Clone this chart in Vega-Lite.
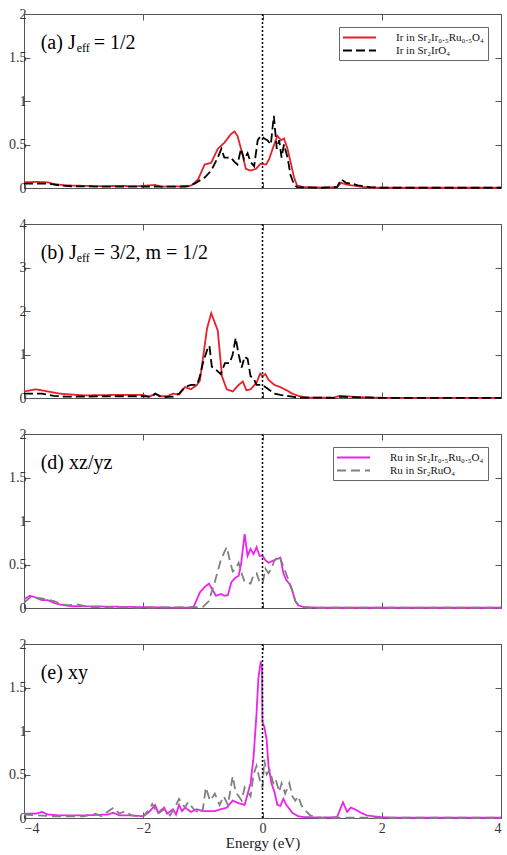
{
"$schema": "https://vega.github.io/schema/vega-lite/v6.json",
"padding": {"left": 8, "top": 6, "right": 2, "bottom": 0},
"spacing": 36,
"bounds": "flush",
"datasets": {
"a": [
{"E":-4,"v":0.065,"s":"Ir in Sr₂Ir₀.₅Ru₀.₅O₄"},{"E":-3.8,"v":0.07,"s":"Ir in Sr₂Ir₀.₅Ru₀.₅O₄"},{"E":-3.6,"v":0.065,"s":"Ir in Sr₂Ir₀.₅Ru₀.₅O₄"},{"E":-3.5,"v":0.045,"s":"Ir in Sr₂Ir₀.₅Ru₀.₅O₄"},{"E":-3.3,"v":0.03,"s":"Ir in Sr₂Ir₀.₅Ru₀.₅O₄"},{"E":-3.0,"v":0.025,"s":"Ir in Sr₂Ir₀.₅Ru₀.₅O₄"},{"E":-2.7,"v":0.02,"s":"Ir in Sr₂Ir₀.₅Ru₀.₅O₄"},{"E":-2.4,"v":0.025,"s":"Ir in Sr₂Ir₀.₅Ru₀.₅O₄"},{"E":-2.1,"v":0.02,"s":"Ir in Sr₂Ir₀.₅Ru₀.₅O₄"},{"E":-1.8,"v":0.035,"s":"Ir in Sr₂Ir₀.₅Ru₀.₅O₄"},{"E":-1.7,"v":0.015,"s":"Ir in Sr₂Ir₀.₅Ru₀.₅O₄"},{"E":-1.5,"v":0.02,"s":"Ir in Sr₂Ir₀.₅Ru₀.₅O₄"},{"E":-1.3,"v":0.015,"s":"Ir in Sr₂Ir₀.₅Ru₀.₅O₄"},{"E":-1.19,"v":0.03,"s":"Ir in Sr₂Ir₀.₅Ru₀.₅O₄"},{"E":-1.08,"v":0.1,"s":"Ir in Sr₂Ir₀.₅Ru₀.₅O₄"},{"E":-0.97,"v":0.27,"s":"Ir in Sr₂Ir₀.₅Ru₀.₅O₄"},{"E":-0.86,"v":0.29,"s":"Ir in Sr₂Ir₀.₅Ru₀.₅O₄"},{"E":-0.75,"v":0.45,"s":"Ir in Sr₂Ir₀.₅Ru₀.₅O₄"},{"E":-0.64,"v":0.52,"s":"Ir in Sr₂Ir₀.₅Ru₀.₅O₄"},{"E":-0.53,"v":0.62,"s":"Ir in Sr₂Ir₀.₅Ru₀.₅O₄"},{"E":-0.47,"v":0.65,"s":"Ir in Sr₂Ir₀.₅Ru₀.₅O₄"},{"E":-0.42,"v":0.6,"s":"Ir in Sr₂Ir₀.₅Ru₀.₅O₄"},{"E":-0.34,"v":0.4,"s":"Ir in Sr₂Ir₀.₅Ru₀.₅O₄"},{"E":-0.28,"v":0.22,"s":"Ir in Sr₂Ir₀.₅Ru₀.₅O₄"},{"E":-0.2,"v":0.2,"s":"Ir in Sr₂Ir₀.₅Ru₀.₅O₄"},{"E":-0.11,"v":0.22,"s":"Ir in Sr₂Ir₀.₅Ru₀.₅O₄"},{"E":-0.03,"v":0.28,"s":"Ir in Sr₂Ir₀.₅Ru₀.₅O₄"},{"E":0.06,"v":0.27,"s":"Ir in Sr₂Ir₀.₅Ru₀.₅O₄"},{"E":0.11,"v":0.33,"s":"Ir in Sr₂Ir₀.₅Ru₀.₅O₄"},{"E":0.17,"v":0.45,"s":"Ir in Sr₂Ir₀.₅Ru₀.₅O₄"},{"E":0.25,"v":0.6,"s":"Ir in Sr₂Ir₀.₅Ru₀.₅O₄"},{"E":0.31,"v":0.55,"s":"Ir in Sr₂Ir₀.₅Ru₀.₅O₄"},{"E":0.36,"v":0.57,"s":"Ir in Sr₂Ir₀.₅Ru₀.₅O₄"},{"E":0.42,"v":0.45,"s":"Ir in Sr₂Ir₀.₅Ru₀.₅O₄"},{"E":0.47,"v":0.3,"s":"Ir in Sr₂Ir₀.₅Ru₀.₅O₄"},{"E":0.53,"v":0.12,"s":"Ir in Sr₂Ir₀.₅Ru₀.₅O₄"},{"E":0.58,"v":0.03,"s":"Ir in Sr₂Ir₀.₅Ru₀.₅O₄"},{"E":0.69,"v":0.01,"s":"Ir in Sr₂Ir₀.₅Ru₀.₅O₄"},{"E":1.0,"v":0.005,"s":"Ir in Sr₂Ir₀.₅Ru₀.₅O₄"},{"E":1.25,"v":0.01,"s":"Ir in Sr₂Ir₀.₅Ru₀.₅O₄"},{"E":1.32,"v":0.06,"s":"Ir in Sr₂Ir₀.₅Ru₀.₅O₄"},{"E":1.4,"v":0.04,"s":"Ir in Sr₂Ir₀.₅Ru₀.₅O₄"},{"E":1.5,"v":0.03,"s":"Ir in Sr₂Ir₀.₅Ru₀.₅O₄"},{"E":1.7,"v":0.01,"s":"Ir in Sr₂Ir₀.₅Ru₀.₅O₄"},{"E":2.0,"v":0.003,"s":"Ir in Sr₂Ir₀.₅Ru₀.₅O₄"},{"E":4.0,"v":0.003,"s":"Ir in Sr₂Ir₀.₅Ru₀.₅O₄"},
{"E":-4,"v":0.05,"s":"Ir in Sr₂IrO₄"},{"E":-3.6,"v":0.05,"s":"Ir in Sr₂IrO₄"},{"E":-3.4,"v":0.03,"s":"Ir in Sr₂IrO₄"},{"E":-3.2,"v":0.02,"s":"Ir in Sr₂IrO₄"},{"E":-2.5,"v":0.015,"s":"Ir in Sr₂IrO₄"},{"E":-2.0,"v":0.015,"s":"Ir in Sr₂IrO₄"},{"E":-1.5,"v":0.015,"s":"Ir in Sr₂IrO₄"},{"E":-1.25,"v":0.02,"s":"Ir in Sr₂IrO₄"},{"E":-1.14,"v":0.05,"s":"Ir in Sr₂IrO₄"},{"E":-0.97,"v":0.12,"s":"Ir in Sr₂IrO₄"},{"E":-0.86,"v":0.2,"s":"Ir in Sr₂IrO₄"},{"E":-0.75,"v":0.35,"s":"Ir in Sr₂IrO₄"},{"E":-0.69,"v":0.45,"s":"Ir in Sr₂IrO₄"},{"E":-0.64,"v":0.35,"s":"Ir in Sr₂IrO₄"},{"E":-0.53,"v":0.35,"s":"Ir in Sr₂IrO₄"},{"E":-0.47,"v":0.3,"s":"Ir in Sr₂IrO₄"},{"E":-0.42,"v":0.27,"s":"Ir in Sr₂IrO₄"},{"E":-0.36,"v":0.45,"s":"Ir in Sr₂IrO₄"},{"E":-0.31,"v":0.33,"s":"Ir in Sr₂IrO₄"},{"E":-0.25,"v":0.4,"s":"Ir in Sr₂IrO₄"},{"E":-0.2,"v":0.3,"s":"Ir in Sr₂IrO₄"},{"E":-0.14,"v":0.25,"s":"Ir in Sr₂IrO₄"},{"E":-0.08,"v":0.55,"s":"Ir in Sr₂IrO₄"},{"E":-0.03,"v":0.6,"s":"Ir in Sr₂IrO₄"},{"E":0.03,"v":0.57,"s":"Ir in Sr₂IrO₄"},{"E":0.08,"v":0.55,"s":"Ir in Sr₂IrO₄"},{"E":0.14,"v":0.5,"s":"Ir in Sr₂IrO₄"},{"E":0.19,"v":0.83,"s":"Ir in Sr₂IrO₄"},{"E":0.24,"v":0.45,"s":"Ir in Sr₂IrO₄"},{"E":0.28,"v":0.55,"s":"Ir in Sr₂IrO₄"},{"E":0.32,"v":0.35,"s":"Ir in Sr₂IrO₄"},{"E":0.36,"v":0.5,"s":"Ir in Sr₂IrO₄"},{"E":0.42,"v":0.35,"s":"Ir in Sr₂IrO₄"},{"E":0.47,"v":0.15,"s":"Ir in Sr₂IrO₄"},{"E":0.53,"v":0.04,"s":"Ir in Sr₂IrO₄"},{"E":0.58,"v":0.01,"s":"Ir in Sr₂IrO₄"},{"E":1.0,"v":0.003,"s":"Ir in Sr₂IrO₄"},{"E":1.25,"v":0.01,"s":"Ir in Sr₂IrO₄"},{"E":1.32,"v":0.1,"s":"Ir in Sr₂IrO₄"},{"E":1.4,"v":0.06,"s":"Ir in Sr₂IrO₄"},{"E":1.5,"v":0.05,"s":"Ir in Sr₂IrO₄"},{"E":1.6,"v":0.03,"s":"Ir in Sr₂IrO₄"},{"E":1.8,"v":0.01,"s":"Ir in Sr₂IrO₄"},{"E":2.0,"v":0.003,"s":"Ir in Sr₂IrO₄"},{"E":4.0,"v":0.003,"s":"Ir in Sr₂IrO₄"}
],
"b": [
{"E":-4,"v":0.15,"s":"Ir in Sr₂Ir₀.₅Ru₀.₅O₄"},{"E":-3.8,"v":0.2,"s":"Ir in Sr₂Ir₀.₅Ru₀.₅O₄"},{"E":-3.6,"v":0.15,"s":"Ir in Sr₂Ir₀.₅Ru₀.₅O₄"},{"E":-3.4,"v":0.1,"s":"Ir in Sr₂Ir₀.₅Ru₀.₅O₄"},{"E":-3.0,"v":0.06,"s":"Ir in Sr₂Ir₀.₅Ru₀.₅O₄"},{"E":-2.5,"v":0.07,"s":"Ir in Sr₂Ir₀.₅Ru₀.₅O₄"},{"E":-2.0,"v":0.07,"s":"Ir in Sr₂Ir₀.₅Ru₀.₅O₄"},{"E":-1.9,"v":0.03,"s":"Ir in Sr₂Ir₀.₅Ru₀.₅O₄"},{"E":-1.8,"v":0.1,"s":"Ir in Sr₂Ir₀.₅Ru₀.₅O₄"},{"E":-1.7,"v":0.04,"s":"Ir in Sr₂Ir₀.₅Ru₀.₅O₄"},{"E":-1.6,"v":0.04,"s":"Ir in Sr₂Ir₀.₅Ru₀.₅O₄"},{"E":-1.5,"v":0.1,"s":"Ir in Sr₂Ir₀.₅Ru₀.₅O₄"},{"E":-1.4,"v":0.08,"s":"Ir in Sr₂Ir₀.₅Ru₀.₅O₄"},{"E":-1.3,"v":0.25,"s":"Ir in Sr₂Ir₀.₅Ru₀.₅O₄"},{"E":-1.2,"v":0.2,"s":"Ir in Sr₂Ir₀.₅Ru₀.₅O₄"},{"E":-1.1,"v":0.3,"s":"Ir in Sr₂Ir₀.₅Ru₀.₅O₄"},{"E":-1.05,"v":0.4,"s":"Ir in Sr₂Ir₀.₅Ru₀.₅O₄"},{"E":-1.0,"v":0.9,"s":"Ir in Sr₂Ir₀.₅Ru₀.₅O₄"},{"E":-0.93,"v":1.6,"s":"Ir in Sr₂Ir₀.₅Ru₀.₅O₄"},{"E":-0.86,"v":1.95,"s":"Ir in Sr₂Ir₀.₅Ru₀.₅O₄"},{"E":-0.75,"v":1.55,"s":"Ir in Sr₂Ir₀.₅Ru₀.₅O₄"},{"E":-0.68,"v":0.5,"s":"Ir in Sr₂Ir₀.₅Ru₀.₅O₄"},{"E":-0.6,"v":0.2,"s":"Ir in Sr₂Ir₀.₅Ru₀.₅O₄"},{"E":-0.5,"v":0.15,"s":"Ir in Sr₂Ir₀.₅Ru₀.₅O₄"},{"E":-0.4,"v":0.3,"s":"Ir in Sr₂Ir₀.₅Ru₀.₅O₄"},{"E":-0.33,"v":0.38,"s":"Ir in Sr₂Ir₀.₅Ru₀.₅O₄"},{"E":-0.27,"v":0.18,"s":"Ir in Sr₂Ir₀.₅Ru₀.₅O₄"},{"E":-0.2,"v":0.2,"s":"Ir in Sr₂Ir₀.₅Ru₀.₅O₄"},{"E":-0.1,"v":0.35,"s":"Ir in Sr₂Ir₀.₅Ru₀.₅O₄"},{"E":-0.04,"v":0.56,"s":"Ir in Sr₂Ir₀.₅Ru₀.₅O₄"},{"E":0.0,"v":0.5,"s":"Ir in Sr₂Ir₀.₅Ru₀.₅O₄"},{"E":0.05,"v":0.55,"s":"Ir in Sr₂Ir₀.₅Ru₀.₅O₄"},{"E":0.1,"v":0.42,"s":"Ir in Sr₂Ir₀.₅Ru₀.₅O₄"},{"E":0.2,"v":0.3,"s":"Ir in Sr₂Ir₀.₅Ru₀.₅O₄"},{"E":0.3,"v":0.25,"s":"Ir in Sr₂Ir₀.₅Ru₀.₅O₄"},{"E":0.4,"v":0.18,"s":"Ir in Sr₂Ir₀.₅Ru₀.₅O₄"},{"E":0.5,"v":0.1,"s":"Ir in Sr₂Ir₀.₅Ru₀.₅O₄"},{"E":0.6,"v":0.05,"s":"Ir in Sr₂Ir₀.₅Ru₀.₅O₄"},{"E":0.7,"v":0.02,"s":"Ir in Sr₂Ir₀.₅Ru₀.₅O₄"},{"E":0.8,"v":0.01,"s":"Ir in Sr₂Ir₀.₅Ru₀.₅O₄"},{"E":1.2,"v":0.01,"s":"Ir in Sr₂Ir₀.₅Ru₀.₅O₄"},{"E":1.3,"v":0.05,"s":"Ir in Sr₂Ir₀.₅Ru₀.₅O₄"},{"E":1.4,"v":0.04,"s":"Ir in Sr₂Ir₀.₅Ru₀.₅O₄"},{"E":1.6,"v":0.02,"s":"Ir in Sr₂Ir₀.₅Ru₀.₅O₄"},{"E":2.0,"v":0.005,"s":"Ir in Sr₂Ir₀.₅Ru₀.₅O₄"},{"E":4.0,"v":0.005,"s":"Ir in Sr₂Ir₀.₅Ru₀.₅O₄"},
{"E":-4,"v":0.1,"s":"Ir in Sr₂IrO₄"},{"E":-3.7,"v":0.1,"s":"Ir in Sr₂IrO₄"},{"E":-3.5,"v":0.05,"s":"Ir in Sr₂IrO₄"},{"E":-3.3,"v":0.03,"s":"Ir in Sr₂IrO₄"},{"E":-2.5,"v":0.04,"s":"Ir in Sr₂IrO₄"},{"E":-2.0,"v":0.04,"s":"Ir in Sr₂IrO₄"},{"E":-1.85,"v":0.03,"s":"Ir in Sr₂IrO₄"},{"E":-1.8,"v":0.1,"s":"Ir in Sr₂IrO₄"},{"E":-1.7,"v":0.02,"s":"Ir in Sr₂IrO₄"},{"E":-1.5,"v":0.03,"s":"Ir in Sr₂IrO₄"},{"E":-1.4,"v":0.1,"s":"Ir in Sr₂IrO₄"},{"E":-1.3,"v":0.25,"s":"Ir in Sr₂IrO₄"},{"E":-1.2,"v":0.3,"s":"Ir in Sr₂IrO₄"},{"E":-1.1,"v":0.3,"s":"Ir in Sr₂IrO₄"},{"E":-1.05,"v":0.5,"s":"Ir in Sr₂IrO₄"},{"E":-1.0,"v":0.8,"s":"Ir in Sr₂IrO₄"},{"E":-0.93,"v":1.1,"s":"Ir in Sr₂IrO₄"},{"E":-0.89,"v":1.2,"s":"Ir in Sr₂IrO₄"},{"E":-0.85,"v":0.72,"s":"Ir in Sr₂IrO₄"},{"E":-0.78,"v":0.65,"s":"Ir in Sr₂IrO₄"},{"E":-0.7,"v":0.55,"s":"Ir in Sr₂IrO₄"},{"E":-0.63,"v":0.8,"s":"Ir in Sr₂IrO₄"},{"E":-0.55,"v":0.8,"s":"Ir in Sr₂IrO₄"},{"E":-0.5,"v":1.0,"s":"Ir in Sr₂IrO₄"},{"E":-0.45,"v":1.38,"s":"Ir in Sr₂IrO₄"},{"E":-0.4,"v":1.0,"s":"Ir in Sr₂IrO₄"},{"E":-0.35,"v":0.7,"s":"Ir in Sr₂IrO₄"},{"E":-0.3,"v":0.95,"s":"Ir in Sr₂IrO₄"},{"E":-0.25,"v":0.9,"s":"Ir in Sr₂IrO₄"},{"E":-0.2,"v":0.5,"s":"Ir in Sr₂IrO₄"},{"E":-0.15,"v":0.45,"s":"Ir in Sr₂IrO₄"},{"E":-0.1,"v":0.3,"s":"Ir in Sr₂IrO₄"},{"E":0.0,"v":0.3,"s":"Ir in Sr₂IrO₄"},{"E":0.1,"v":0.2,"s":"Ir in Sr₂IrO₄"},{"E":0.2,"v":0.1,"s":"Ir in Sr₂IrO₄"},{"E":0.3,"v":0.07,"s":"Ir in Sr₂IrO₄"},{"E":0.4,"v":0.05,"s":"Ir in Sr₂IrO₄"},{"E":0.5,"v":0.03,"s":"Ir in Sr₂IrO₄"},{"E":0.6,"v":0.01,"s":"Ir in Sr₂IrO₄"},{"E":1.2,"v":0.005,"s":"Ir in Sr₂IrO₄"},{"E":1.3,"v":0.03,"s":"Ir in Sr₂IrO₄"},{"E":1.5,"v":0.02,"s":"Ir in Sr₂IrO₄"},{"E":2.0,"v":0.003,"s":"Ir in Sr₂IrO₄"},{"E":4.0,"v":0.003,"s":"Ir in Sr₂IrO₄"}
],
"d": [
{"E":-4,"v":0.1,"s":"Ru in Sr₂Ir₀.₅Ru₀.₅O₄"},{"E":-3.9,"v":0.14,"s":"Ru in Sr₂Ir₀.₅Ru₀.₅O₄"},{"E":-3.8,"v":0.12,"s":"Ru in Sr₂Ir₀.₅Ru₀.₅O₄"},{"E":-3.7,"v":0.09,"s":"Ru in Sr₂Ir₀.₅Ru₀.₅O₄"},{"E":-3.6,"v":0.09,"s":"Ru in Sr₂Ir₀.₅Ru₀.₅O₄"},{"E":-3.5,"v":0.06,"s":"Ru in Sr₂Ir₀.₅Ru₀.₅O₄"},{"E":-3.4,"v":0.04,"s":"Ru in Sr₂Ir₀.₅Ru₀.₅O₄"},{"E":-3.2,"v":0.02,"s":"Ru in Sr₂Ir₀.₅Ru₀.₅O₄"},{"E":-3.0,"v":0.02,"s":"Ru in Sr₂Ir₀.₅Ru₀.₅O₄"},{"E":-2.5,"v":0.015,"s":"Ru in Sr₂Ir₀.₅Ru₀.₅O₄"},{"E":-2.0,"v":0.01,"s":"Ru in Sr₂Ir₀.₅Ru₀.₅O₄"},{"E":-1.5,"v":0.005,"s":"Ru in Sr₂Ir₀.₅Ru₀.₅O₄"},{"E":-1.2,"v":0.005,"s":"Ru in Sr₂Ir₀.₅Ru₀.₅O₄"},{"E":-1.15,"v":0.02,"s":"Ru in Sr₂Ir₀.₅Ru₀.₅O₄"},{"E":-1.05,"v":0.18,"s":"Ru in Sr₂Ir₀.₅Ru₀.₅O₄"},{"E":-0.97,"v":0.24,"s":"Ru in Sr₂Ir₀.₅Ru₀.₅O₄"},{"E":-0.9,"v":0.28,"s":"Ru in Sr₂Ir₀.₅Ru₀.₅O₄"},{"E":-0.83,"v":0.2,"s":"Ru in Sr₂Ir₀.₅Ru₀.₅O₄"},{"E":-0.78,"v":0.14,"s":"Ru in Sr₂Ir₀.₅Ru₀.₅O₄"},{"E":-0.7,"v":0.16,"s":"Ru in Sr₂Ir₀.₅Ru₀.₅O₄"},{"E":-0.63,"v":0.14,"s":"Ru in Sr₂Ir₀.₅Ru₀.₅O₄"},{"E":-0.58,"v":0.15,"s":"Ru in Sr₂Ir₀.₅Ru₀.₅O₄"},{"E":-0.52,"v":0.3,"s":"Ru in Sr₂Ir₀.₅Ru₀.₅O₄"},{"E":-0.45,"v":0.35,"s":"Ru in Sr₂Ir₀.₅Ru₀.₅O₄"},{"E":-0.4,"v":0.37,"s":"Ru in Sr₂Ir₀.₅Ru₀.₅O₄"},{"E":-0.36,"v":0.5,"s":"Ru in Sr₂Ir₀.₅Ru₀.₅O₄"},{"E":-0.3,"v":0.85,"s":"Ru in Sr₂Ir₀.₅Ru₀.₅O₄"},{"E":-0.25,"v":0.6,"s":"Ru in Sr₂Ir₀.₅Ru₀.₅O₄"},{"E":-0.2,"v":0.68,"s":"Ru in Sr₂Ir₀.₅Ru₀.₅O₄"},{"E":-0.15,"v":0.62,"s":"Ru in Sr₂Ir₀.₅Ru₀.₅O₄"},{"E":-0.1,"v":0.7,"s":"Ru in Sr₂Ir₀.₅Ru₀.₅O₄"},{"E":-0.05,"v":0.6,"s":"Ru in Sr₂Ir₀.₅Ru₀.₅O₄"},{"E":0.0,"v":0.6,"s":"Ru in Sr₂Ir₀.₅Ru₀.₅O₄"},{"E":0.05,"v":0.55,"s":"Ru in Sr₂Ir₀.₅Ru₀.₅O₄"},{"E":0.1,"v":0.52,"s":"Ru in Sr₂Ir₀.₅Ru₀.₅O₄"},{"E":0.2,"v":0.55,"s":"Ru in Sr₂Ir₀.₅Ru₀.₅O₄"},{"E":0.3,"v":0.58,"s":"Ru in Sr₂Ir₀.₅Ru₀.₅O₄"},{"E":0.35,"v":0.4,"s":"Ru in Sr₂Ir₀.₅Ru₀.₅O₄"},{"E":0.4,"v":0.32,"s":"Ru in Sr₂Ir₀.₅Ru₀.₅O₄"},{"E":0.45,"v":0.28,"s":"Ru in Sr₂Ir₀.₅Ru₀.₅O₄"},{"E":0.5,"v":0.2,"s":"Ru in Sr₂Ir₀.₅Ru₀.₅O₄"},{"E":0.55,"v":0.08,"s":"Ru in Sr₂Ir₀.₅Ru₀.₅O₄"},{"E":0.6,"v":0.03,"s":"Ru in Sr₂Ir₀.₅Ru₀.₅O₄"},{"E":0.7,"v":0.01,"s":"Ru in Sr₂Ir₀.₅Ru₀.₅O₄"},{"E":1.0,"v":0.003,"s":"Ru in Sr₂Ir₀.₅Ru₀.₅O₄"},{"E":4.0,"v":0.003,"s":"Ru in Sr₂Ir₀.₅Ru₀.₅O₄"},
{"E":-4,"v":0.06,"s":"Ru in Sr₂RuO₄"},{"E":-3.9,"v":0.12,"s":"Ru in Sr₂RuO₄"},{"E":-3.7,"v":0.11,"s":"Ru in Sr₂RuO₄"},{"E":-3.5,"v":0.08,"s":"Ru in Sr₂RuO₄"},{"E":-3.3,"v":0.03,"s":"Ru in Sr₂RuO₄"},{"E":-3.1,"v":0.04,"s":"Ru in Sr₂RuO₄"},{"E":-2.9,"v":0.01,"s":"Ru in Sr₂RuO₄"},{"E":-2.0,"v":0.005,"s":"Ru in Sr₂RuO₄"},{"E":-1.0,"v":0.01,"s":"Ru in Sr₂RuO₄"},{"E":-0.9,"v":0.08,"s":"Ru in Sr₂RuO₄"},{"E":-0.8,"v":0.3,"s":"Ru in Sr₂RuO₄"},{"E":-0.7,"v":0.55,"s":"Ru in Sr₂RuO₄"},{"E":-0.6,"v":0.7,"s":"Ru in Sr₂RuO₄"},{"E":-0.55,"v":0.55,"s":"Ru in Sr₂RuO₄"},{"E":-0.5,"v":0.42,"s":"Ru in Sr₂RuO₄"},{"E":-0.45,"v":0.45,"s":"Ru in Sr₂RuO₄"},{"E":-0.4,"v":0.52,"s":"Ru in Sr₂RuO₄"},{"E":-0.35,"v":0.4,"s":"Ru in Sr₂RuO₄"},{"E":-0.3,"v":0.3,"s":"Ru in Sr₂RuO₄"},{"E":-0.2,"v":0.28,"s":"Ru in Sr₂RuO₄"},{"E":-0.15,"v":0.38,"s":"Ru in Sr₂RuO₄"},{"E":-0.1,"v":0.4,"s":"Ru in Sr₂RuO₄"},{"E":-0.05,"v":0.3,"s":"Ru in Sr₂RuO₄"},{"E":0.0,"v":0.28,"s":"Ru in Sr₂RuO₄"},{"E":0.05,"v":0.45,"s":"Ru in Sr₂RuO₄"},{"E":0.1,"v":0.4,"s":"Ru in Sr₂RuO₄"},{"E":0.15,"v":0.45,"s":"Ru in Sr₂RuO₄"},{"E":0.2,"v":0.55,"s":"Ru in Sr₂RuO₄"},{"E":0.28,"v":0.6,"s":"Ru in Sr₂RuO₄"},{"E":0.35,"v":0.48,"s":"Ru in Sr₂RuO₄"},{"E":0.42,"v":0.35,"s":"Ru in Sr₂RuO₄"},{"E":0.5,"v":0.2,"s":"Ru in Sr₂RuO₄"},{"E":0.55,"v":0.08,"s":"Ru in Sr₂RuO₄"},{"E":0.6,"v":0.04,"s":"Ru in Sr₂RuO₄"},{"E":0.7,"v":0.01,"s":"Ru in Sr₂RuO₄"},{"E":0.8,"v":0.003,"s":"Ru in Sr₂RuO₄"},{"E":4.0,"v":0.003,"s":"Ru in Sr₂RuO₄"}
],
"e": [
{"E":-4,"v":0.05,"s":"Ru in Sr₂Ir₀.₅Ru₀.₅O₄"},{"E":-3.8,"v":0.05,"s":"Ru in Sr₂Ir₀.₅Ru₀.₅O₄"},{"E":-3.7,"v":0.07,"s":"Ru in Sr₂Ir₀.₅Ru₀.₅O₄"},{"E":-3.6,"v":0.04,"s":"Ru in Sr₂Ir₀.₅Ru₀.₅O₄"},{"E":-3.4,"v":0.03,"s":"Ru in Sr₂Ir₀.₅Ru₀.₅O₄"},{"E":-3.0,"v":0.03,"s":"Ru in Sr₂Ir₀.₅Ru₀.₅O₄"},{"E":-2.6,"v":0.04,"s":"Ru in Sr₂Ir₀.₅Ru₀.₅O₄"},{"E":-2.5,"v":0.06,"s":"Ru in Sr₂Ir₀.₅Ru₀.₅O₄"},{"E":-2.4,"v":0.03,"s":"Ru in Sr₂Ir₀.₅Ru₀.₅O₄"},{"E":-2.2,"v":0.03,"s":"Ru in Sr₂Ir₀.₅Ru₀.₅O₄"},{"E":-2.0,"v":0.02,"s":"Ru in Sr₂Ir₀.₅Ru₀.₅O₄"},{"E":-1.9,"v":0.07,"s":"Ru in Sr₂Ir₀.₅Ru₀.₅O₄"},{"E":-1.8,"v":0.15,"s":"Ru in Sr₂Ir₀.₅Ru₀.₅O₄"},{"E":-1.75,"v":0.06,"s":"Ru in Sr₂Ir₀.₅Ru₀.₅O₄"},{"E":-1.65,"v":0.12,"s":"Ru in Sr₂Ir₀.₅Ru₀.₅O₄"},{"E":-1.6,"v":0.05,"s":"Ru in Sr₂Ir₀.₅Ru₀.₅O₄"},{"E":-1.5,"v":0.1,"s":"Ru in Sr₂Ir₀.₅Ru₀.₅O₄"},{"E":-1.45,"v":0.04,"s":"Ru in Sr₂Ir₀.₅Ru₀.₅O₄"},{"E":-1.4,"v":0.15,"s":"Ru in Sr₂Ir₀.₅Ru₀.₅O₄"},{"E":-1.35,"v":0.08,"s":"Ru in Sr₂Ir₀.₅Ru₀.₅O₄"},{"E":-1.3,"v":0.12,"s":"Ru in Sr₂Ir₀.₅Ru₀.₅O₄"},{"E":-1.2,"v":0.07,"s":"Ru in Sr₂Ir₀.₅Ru₀.₅O₄"},{"E":-1.1,"v":0.1,"s":"Ru in Sr₂Ir₀.₅Ru₀.₅O₄"},{"E":-1.0,"v":0.08,"s":"Ru in Sr₂Ir₀.₅Ru₀.₅O₄"},{"E":-0.8,"v":0.08,"s":"Ru in Sr₂Ir₀.₅Ru₀.₅O₄"},{"E":-0.6,"v":0.12,"s":"Ru in Sr₂Ir₀.₅Ru₀.₅O₄"},{"E":-0.5,"v":0.2,"s":"Ru in Sr₂Ir₀.₅Ru₀.₅O₄"},{"E":-0.4,"v":0.17,"s":"Ru in Sr₂Ir₀.₅Ru₀.₅O₄"},{"E":-0.3,"v":0.15,"s":"Ru in Sr₂Ir₀.₅Ru₀.₅O₄"},{"E":-0.2,"v":0.4,"s":"Ru in Sr₂Ir₀.₅Ru₀.₅O₄"},{"E":-0.15,"v":0.7,"s":"Ru in Sr₂Ir₀.₅Ru₀.₅O₄"},{"E":-0.1,"v":1.2,"s":"Ru in Sr₂Ir₀.₅Ru₀.₅O₄"},{"E":-0.07,"v":1.6,"s":"Ru in Sr₂Ir₀.₅Ru₀.₅O₄"},{"E":-0.03,"v":1.8,"s":"Ru in Sr₂Ir₀.₅Ru₀.₅O₄"},{"E":-0.01,"v":1.75,"s":"Ru in Sr₂Ir₀.₅Ru₀.₅O₄"},{"E":0.0,"v":1.1,"s":"Ru in Sr₂Ir₀.₅Ru₀.₅O₄"},{"E":0.03,"v":1.05,"s":"Ru in Sr₂Ir₀.₅Ru₀.₅O₄"},{"E":0.07,"v":0.9,"s":"Ru in Sr₂Ir₀.₅Ru₀.₅O₄"},{"E":0.1,"v":0.6,"s":"Ru in Sr₂Ir₀.₅Ru₀.₅O₄"},{"E":0.15,"v":0.4,"s":"Ru in Sr₂Ir₀.₅Ru₀.₅O₄"},{"E":0.2,"v":0.3,"s":"Ru in Sr₂Ir₀.₅Ru₀.₅O₄"},{"E":0.25,"v":0.15,"s":"Ru in Sr₂Ir₀.₅Ru₀.₅O₄"},{"E":0.3,"v":0.14,"s":"Ru in Sr₂Ir₀.₅Ru₀.₅O₄"},{"E":0.35,"v":0.22,"s":"Ru in Sr₂Ir₀.₅Ru₀.₅O₄"},{"E":0.4,"v":0.15,"s":"Ru in Sr₂Ir₀.₅Ru₀.₅O₄"},{"E":0.5,"v":0.06,"s":"Ru in Sr₂Ir₀.₅Ru₀.₅O₄"},{"E":0.6,"v":0.02,"s":"Ru in Sr₂Ir₀.₅Ru₀.₅O₄"},{"E":0.7,"v":0.01,"s":"Ru in Sr₂Ir₀.₅Ru₀.₅O₄"},{"E":1.0,"v":0.005,"s":"Ru in Sr₂Ir₀.₅Ru₀.₅O₄"},{"E":1.25,"v":0.01,"s":"Ru in Sr₂Ir₀.₅Ru₀.₅O₄"},{"E":1.35,"v":0.18,"s":"Ru in Sr₂Ir₀.₅Ru₀.₅O₄"},{"E":1.42,"v":0.07,"s":"Ru in Sr₂Ir₀.₅Ru₀.₅O₄"},{"E":1.48,"v":0.12,"s":"Ru in Sr₂Ir₀.₅Ru₀.₅O₄"},{"E":1.55,"v":0.1,"s":"Ru in Sr₂Ir₀.₅Ru₀.₅O₄"},{"E":1.65,"v":0.06,"s":"Ru in Sr₂Ir₀.₅Ru₀.₅O₄"},{"E":1.75,"v":0.03,"s":"Ru in Sr₂Ir₀.₅Ru₀.₅O₄"},{"E":1.85,"v":0.02,"s":"Ru in Sr₂Ir₀.₅Ru₀.₅O₄"},{"E":2.0,"v":0.01,"s":"Ru in Sr₂Ir₀.₅Ru₀.₅O₄"},{"E":2.2,"v":0.003,"s":"Ru in Sr₂Ir₀.₅Ru₀.₅O₄"},{"E":4.0,"v":0.003,"s":"Ru in Sr₂Ir₀.₅Ru₀.₅O₄"},
{"E":-4,"v":0.04,"s":"Ru in Sr₂RuO₄"},{"E":-3.5,"v":0.02,"s":"Ru in Sr₂RuO₄"},{"E":-3.0,"v":0.02,"s":"Ru in Sr₂RuO₄"},{"E":-2.8,"v":0.05,"s":"Ru in Sr₂RuO₄"},{"E":-2.7,"v":0.02,"s":"Ru in Sr₂RuO₄"},{"E":-2.5,"v":0.12,"s":"Ru in Sr₂RuO₄"},{"E":-2.4,"v":0.05,"s":"Ru in Sr₂RuO₄"},{"E":-2.3,"v":0.08,"s":"Ru in Sr₂RuO₄"},{"E":-2.2,"v":0.03,"s":"Ru in Sr₂RuO₄"},{"E":-2.0,"v":0.02,"s":"Ru in Sr₂RuO₄"},{"E":-1.9,"v":0.1,"s":"Ru in Sr₂RuO₄"},{"E":-1.85,"v":0.16,"s":"Ru in Sr₂RuO₄"},{"E":-1.75,"v":0.05,"s":"Ru in Sr₂RuO₄"},{"E":-1.65,"v":0.1,"s":"Ru in Sr₂RuO₄"},{"E":-1.55,"v":0.03,"s":"Ru in Sr₂RuO₄"},{"E":-1.45,"v":0.15,"s":"Ru in Sr₂RuO₄"},{"E":-1.4,"v":0.22,"s":"Ru in Sr₂RuO₄"},{"E":-1.3,"v":0.12,"s":"Ru in Sr₂RuO₄"},{"E":-1.25,"v":0.18,"s":"Ru in Sr₂RuO₄"},{"E":-1.15,"v":0.1,"s":"Ru in Sr₂RuO₄"},{"E":-1.05,"v":0.05,"s":"Ru in Sr₂RuO₄"},{"E":-1.0,"v":0.1,"s":"Ru in Sr₂RuO₄"},{"E":-0.95,"v":0.35,"s":"Ru in Sr₂RuO₄"},{"E":-0.88,"v":0.2,"s":"Ru in Sr₂RuO₄"},{"E":-0.8,"v":0.28,"s":"Ru in Sr₂RuO₄"},{"E":-0.72,"v":0.15,"s":"Ru in Sr₂RuO₄"},{"E":-0.65,"v":0.25,"s":"Ru in Sr₂RuO₄"},{"E":-0.58,"v":0.15,"s":"Ru in Sr₂RuO₄"},{"E":-0.5,"v":0.48,"s":"Ru in Sr₂RuO₄"},{"E":-0.45,"v":0.3,"s":"Ru in Sr₂RuO₄"},{"E":-0.35,"v":0.2,"s":"Ru in Sr₂RuO₄"},{"E":-0.3,"v":0.35,"s":"Ru in Sr₂RuO₄"},{"E":-0.2,"v":0.25,"s":"Ru in Sr₂RuO₄"},{"E":-0.15,"v":0.5,"s":"Ru in Sr₂RuO₄"},{"E":-0.1,"v":0.6,"s":"Ru in Sr₂RuO₄"},{"E":-0.05,"v":0.45,"s":"Ru in Sr₂RuO₄"},{"E":0.0,"v":0.35,"s":"Ru in Sr₂RuO₄"},{"E":0.03,"v":0.67,"s":"Ru in Sr₂RuO₄"},{"E":0.07,"v":0.5,"s":"Ru in Sr₂RuO₄"},{"E":0.12,"v":0.55,"s":"Ru in Sr₂RuO₄"},{"E":0.18,"v":0.4,"s":"Ru in Sr₂RuO₄"},{"E":0.22,"v":0.45,"s":"Ru in Sr₂RuO₄"},{"E":0.28,"v":0.3,"s":"Ru in Sr₂RuO₄"},{"E":0.32,"v":0.4,"s":"Ru in Sr₂RuO₄"},{"E":0.38,"v":0.28,"s":"Ru in Sr₂RuO₄"},{"E":0.45,"v":0.4,"s":"Ru in Sr₂RuO₄"},{"E":0.5,"v":0.25,"s":"Ru in Sr₂RuO₄"},{"E":0.55,"v":0.2,"s":"Ru in Sr₂RuO₄"},{"E":0.6,"v":0.25,"s":"Ru in Sr₂RuO₄"},{"E":0.65,"v":0.15,"s":"Ru in Sr₂RuO₄"},{"E":0.7,"v":0.1,"s":"Ru in Sr₂RuO₄"},{"E":0.8,"v":0.03,"s":"Ru in Sr₂RuO₄"},{"E":0.9,"v":0.01,"s":"Ru in Sr₂RuO₄"},{"E":1.0,"v":0.003,"s":"Ru in Sr₂RuO₄"},{"E":4.0,"v":0.003,"s":"Ru in Sr₂RuO₄"}
],
"one": [{"E":0,"v":0}],
"labA": [{"E":-3.72,"v":1.67}],
"labB": [{"E":-3.72,"v":3.34}]
},
"vconcat": [
{
"width": 477, "height": 174,
"layer": [
{"data": {"name": "a"}, "mark": {"type": "line", "strokeWidth": 1.8, "interpolate": "linear"},
 "encoding": {
  "x": {"field": "E", "type": "quantitative", "scale": {"domain": [-4, 4], "nice": false}, "axis": {"orient": "bottom", "values": [-4, -2, 0, 2, 4], "labels": false, "title": null}},
  "y": {"field": "v", "type": "quantitative", "scale": {"domain": [0, 2], "nice": false}, "axis": {"orient": "left", "values": [0, 0.5, 1, 1.5, 2], "format": "~g", "title": null}},
  "color": {"field": "s", "type": "nominal", "scale": {"domain": ["Ir in Sr₂Ir₀.₅Ru₀.₅O₄", "Ir in Sr₂IrO₄"], "range": ["#e8202a", "#000000"]}, "legend": {"orient": "top-right", "offset": 13, "title": null}},
  "strokeDash": {"field": "s", "type": "nominal", "scale": {"domain": ["Ir in Sr₂Ir₀.₅Ru₀.₅O₄", "Ir in Sr₂IrO₄"], "range": [[1, 0], [9, 4]]}, "legend": {"orient": "top-right", "offset": 13, "title": null}}
 }},
{"data": {"name": "one"}, "mark": {"type": "rule", "color": "black", "strokeWidth": 1.5, "strokeDash": [2, 2]},
 "encoding": {"x": {"field": "E", "type": "quantitative", "axis": {"orient": "top", "values": [-4, -2, 0, 2, 4], "labels": false, "title": null}}}},
{"data": {"name": "one"}, "mark": {"type": "point", "opacity": 0},
 "encoding": {"y": {"field": "v", "type": "quantitative", "axis": {"orient": "right", "values": [0, 0.5, 1, 1.5, 2], "labels": false, "title": null}}, "x": {"field": "E", "type": "quantitative", "axis": null}}},
{"data": {"name": "labA"}, "mark": {"type": "text", "text": "(a) J", "align": "left", "baseline": "middle", "fontSize": 20},
 "encoding": {"x": {"field": "E", "type": "quantitative", "axis": null}, "y": {"field": "v", "type": "quantitative", "axis": null}}},
{"data": {"name": "labA"}, "mark": {"type": "text", "text": "eff", "align": "left", "baseline": "middle", "fontSize": 12, "dx": 36, "dy": 5},
 "encoding": {"x": {"field": "E", "type": "quantitative", "axis": null}, "y": {"field": "v", "type": "quantitative", "axis": null}}},
{"data": {"name": "labA"}, "mark": {"type": "text", "text": "= 1/2", "align": "left", "baseline": "middle", "fontSize": 20, "dx": 53},
 "encoding": {"x": {"field": "E", "type": "quantitative", "axis": null}, "y": {"field": "v", "type": "quantitative", "axis": null}}}
],
"resolve": {"axis": {"x": "independent", "y": "independent"}}
},
{
"width": 477, "height": 174,
"layer": [
{"data": {"name": "b"}, "mark": {"type": "line", "strokeWidth": 1.8},
 "encoding": {
  "x": {"field": "E", "type": "quantitative", "scale": {"domain": [-4, 4], "nice": false}, "axis": {"orient": "bottom", "values": [-4, -2, 0, 2, 4], "labels": false, "title": null}},
  "y": {"field": "v", "type": "quantitative", "scale": {"domain": [0, 4], "nice": false}, "axis": {"orient": "left", "values": [0, 1, 2, 3, 4], "format": "~g", "title": null}},
  "color": {"field": "s", "type": "nominal", "scale": {"domain": ["Ir in Sr₂Ir₀.₅Ru₀.₅O₄", "Ir in Sr₂IrO₄"], "range": ["#e8202a", "#000000"]}, "legend": null},
  "strokeDash": {"field": "s", "type": "nominal", "scale": {"domain": ["Ir in Sr₂Ir₀.₅Ru₀.₅O₄", "Ir in Sr₂IrO₄"], "range": [[1, 0], [9, 4]]}, "legend": null}
 }},
{"data": {"name": "one"}, "mark": {"type": "rule", "color": "black", "strokeWidth": 1.5, "strokeDash": [2, 2]},
 "encoding": {"x": {"field": "E", "type": "quantitative", "axis": {"orient": "top", "values": [-4, -2, 0, 2, 4], "labels": false, "title": null}}}},
{"data": {"name": "one"}, "mark": {"type": "point", "opacity": 0},
 "encoding": {"y": {"field": "v", "type": "quantitative", "axis": {"orient": "right", "values": [0, 1, 2, 3, 4], "labels": false, "title": null}}, "x": {"field": "E", "type": "quantitative", "axis": null}}},
{"data": {"name": "labB"}, "mark": {"type": "text", "text": "(b) J", "align": "left", "baseline": "middle", "fontSize": 20},
 "encoding": {"x": {"field": "E", "type": "quantitative", "axis": null}, "y": {"field": "v", "type": "quantitative", "axis": null}}},
{"data": {"name": "labB"}, "mark": {"type": "text", "text": "eff", "align": "left", "baseline": "middle", "fontSize": 12, "dx": 36, "dy": 5},
 "encoding": {"x": {"field": "E", "type": "quantitative", "axis": null}, "y": {"field": "v", "type": "quantitative", "axis": null}}},
{"data": {"name": "labB"}, "mark": {"type": "text", "text": "= 3/2, m = 1/2", "align": "left", "baseline": "middle", "fontSize": 20, "dx": 53},
 "encoding": {"x": {"field": "E", "type": "quantitative", "axis": null}, "y": {"field": "v", "type": "quantitative", "axis": null}}}
],
"resolve": {"axis": {"x": "independent", "y": "independent"}}
},
{
"width": 477, "height": 174,
"layer": [
{"data": {"name": "d"}, "mark": {"type": "line", "strokeWidth": 1.8},
 "encoding": {
  "x": {"field": "E", "type": "quantitative", "scale": {"domain": [-4, 4], "nice": false}, "axis": {"orient": "bottom", "values": [-4, -2, 0, 2, 4], "labels": false, "title": null}},
  "y": {"field": "v", "type": "quantitative", "scale": {"domain": [0, 2], "nice": false}, "axis": {"orient": "left", "values": [0, 0.5, 1, 1.5, 2], "format": "~g", "title": null}},
  "color": {"field": "s", "type": "nominal", "scale": {"domain": ["Ru in Sr₂Ir₀.₅Ru₀.₅O₄", "Ru in Sr₂RuO₄"], "range": ["#ee22ee", "#808080"]}, "legend": {"orient": "top-right", "offset": 13, "title": null}},
  "strokeDash": {"field": "s", "type": "nominal", "scale": {"domain": ["Ru in Sr₂Ir₀.₅Ru₀.₅O₄", "Ru in Sr₂RuO₄"], "range": [[1, 0], [9, 5]]}, "legend": {"orient": "top-right", "offset": 13, "title": null}}
 }},
{"data": {"name": "one"}, "mark": {"type": "rule", "color": "black", "strokeWidth": 1.5, "strokeDash": [2, 2]},
 "encoding": {"x": {"field": "E", "type": "quantitative", "axis": {"orient": "top", "values": [-4, -2, 0, 2, 4], "labels": false, "title": null}}}},
{"data": {"name": "one"}, "mark": {"type": "point", "opacity": 0},
 "encoding": {"y": {"field": "v", "type": "quantitative", "axis": {"orient": "right", "values": [0, 0.5, 1, 1.5, 2], "labels": false, "title": null}}, "x": {"field": "E", "type": "quantitative", "axis": null}}},
{"data": {"name": "labA"}, "mark": {"type": "text", "text": "(d) xz/yz", "align": "left", "baseline": "middle", "fontSize": 20},
 "encoding": {"x": {"field": "E", "type": "quantitative", "axis": null}, "y": {"field": "v", "type": "quantitative", "axis": null}}}
],
"resolve": {"axis": {"x": "independent", "y": "independent"}}
},
{
"width": 477, "height": 174,
"layer": [
{"data": {"name": "e"}, "mark": {"type": "line", "strokeWidth": 1.8},
 "encoding": {
  "x": {"field": "E", "type": "quantitative", "scale": {"domain": [-4, 4], "nice": false}, "axis": {"orient": "bottom", "values": [-4, -2, 0, 2, 4], "title": "Energy (eV)", "labelPadding": 9}},
  "y": {"field": "v", "type": "quantitative", "scale": {"domain": [0, 2], "nice": false}, "axis": {"orient": "left", "values": [0, 0.5, 1, 1.5, 2], "format": "~g", "title": null}},
  "color": {"field": "s", "type": "nominal", "scale": {"domain": ["Ru in Sr₂Ir₀.₅Ru₀.₅O₄", "Ru in Sr₂RuO₄"], "range": ["#ee22ee", "#808080"]}, "legend": null},
  "strokeDash": {"field": "s", "type": "nominal", "scale": {"domain": ["Ru in Sr₂Ir₀.₅Ru₀.₅O₄", "Ru in Sr₂RuO₄"], "range": [[1, 0], [9, 5]]}, "legend": null}
 }},
{"data": {"name": "one"}, "mark": {"type": "rule", "color": "black", "strokeWidth": 1.5, "strokeDash": [2, 2]},
 "encoding": {"x": {"field": "E", "type": "quantitative", "axis": {"orient": "top", "values": [-4, -2, 0, 2, 4], "labels": false, "title": null}}}},
{"data": {"name": "one"}, "mark": {"type": "point", "opacity": 0},
 "encoding": {"y": {"field": "v", "type": "quantitative", "axis": {"orient": "right", "values": [0, 0.5, 1, 1.5, 2], "labels": false, "title": null}}, "x": {"field": "E", "type": "quantitative", "axis": null}}},
{"data": {"name": "labA"}, "mark": {"type": "text", "text": "(e) xy", "align": "left", "baseline": "middle", "fontSize": 20},
 "encoding": {"x": {"field": "E", "type": "quantitative", "axis": null}, "y": {"field": "v", "type": "quantitative", "axis": null}}}
],
"resolve": {"axis": {"x": "independent", "y": "independent"}}
}
],
"resolve": {"scale": {"color": "independent", "strokeDash": "independent"}, "legend": {"color": "independent", "strokeDash": "independent"}},
"config": {
 "font": "Liberation Serif",
 "text": {"font": "Liberation Serif"},
 "view": {"stroke": "#555555", "strokeWidth": 1},
 "axis": {"grid": false, "domain": false, "tickColor": "#555555", "tickSize": -6, "tickWidth": 1, "labelPadding": 4, "labelFont": "Liberation Serif", "labelFontSize": 14, "labelColor": "#333333", "titleFont": "Liberation Serif", "titleFontSize": 15, "titleFontWeight": "normal", "titleColor": "#222222", "titlePadding": 0},
 "legend": {"strokeColor": "#666666", "fillColor": "white", "padding": 4, "symbolType": "M-3,0H3", "symbolSize": 121, "symbolStrokeWidth": 2, "symbolOffset": 10, "labelOffset": 30, "labelFont": "Liberation Serif", "labelFontSize": 11, "labelColor": "#111111", "rowPadding": 1, "cornerRadius": 0}
}
}
